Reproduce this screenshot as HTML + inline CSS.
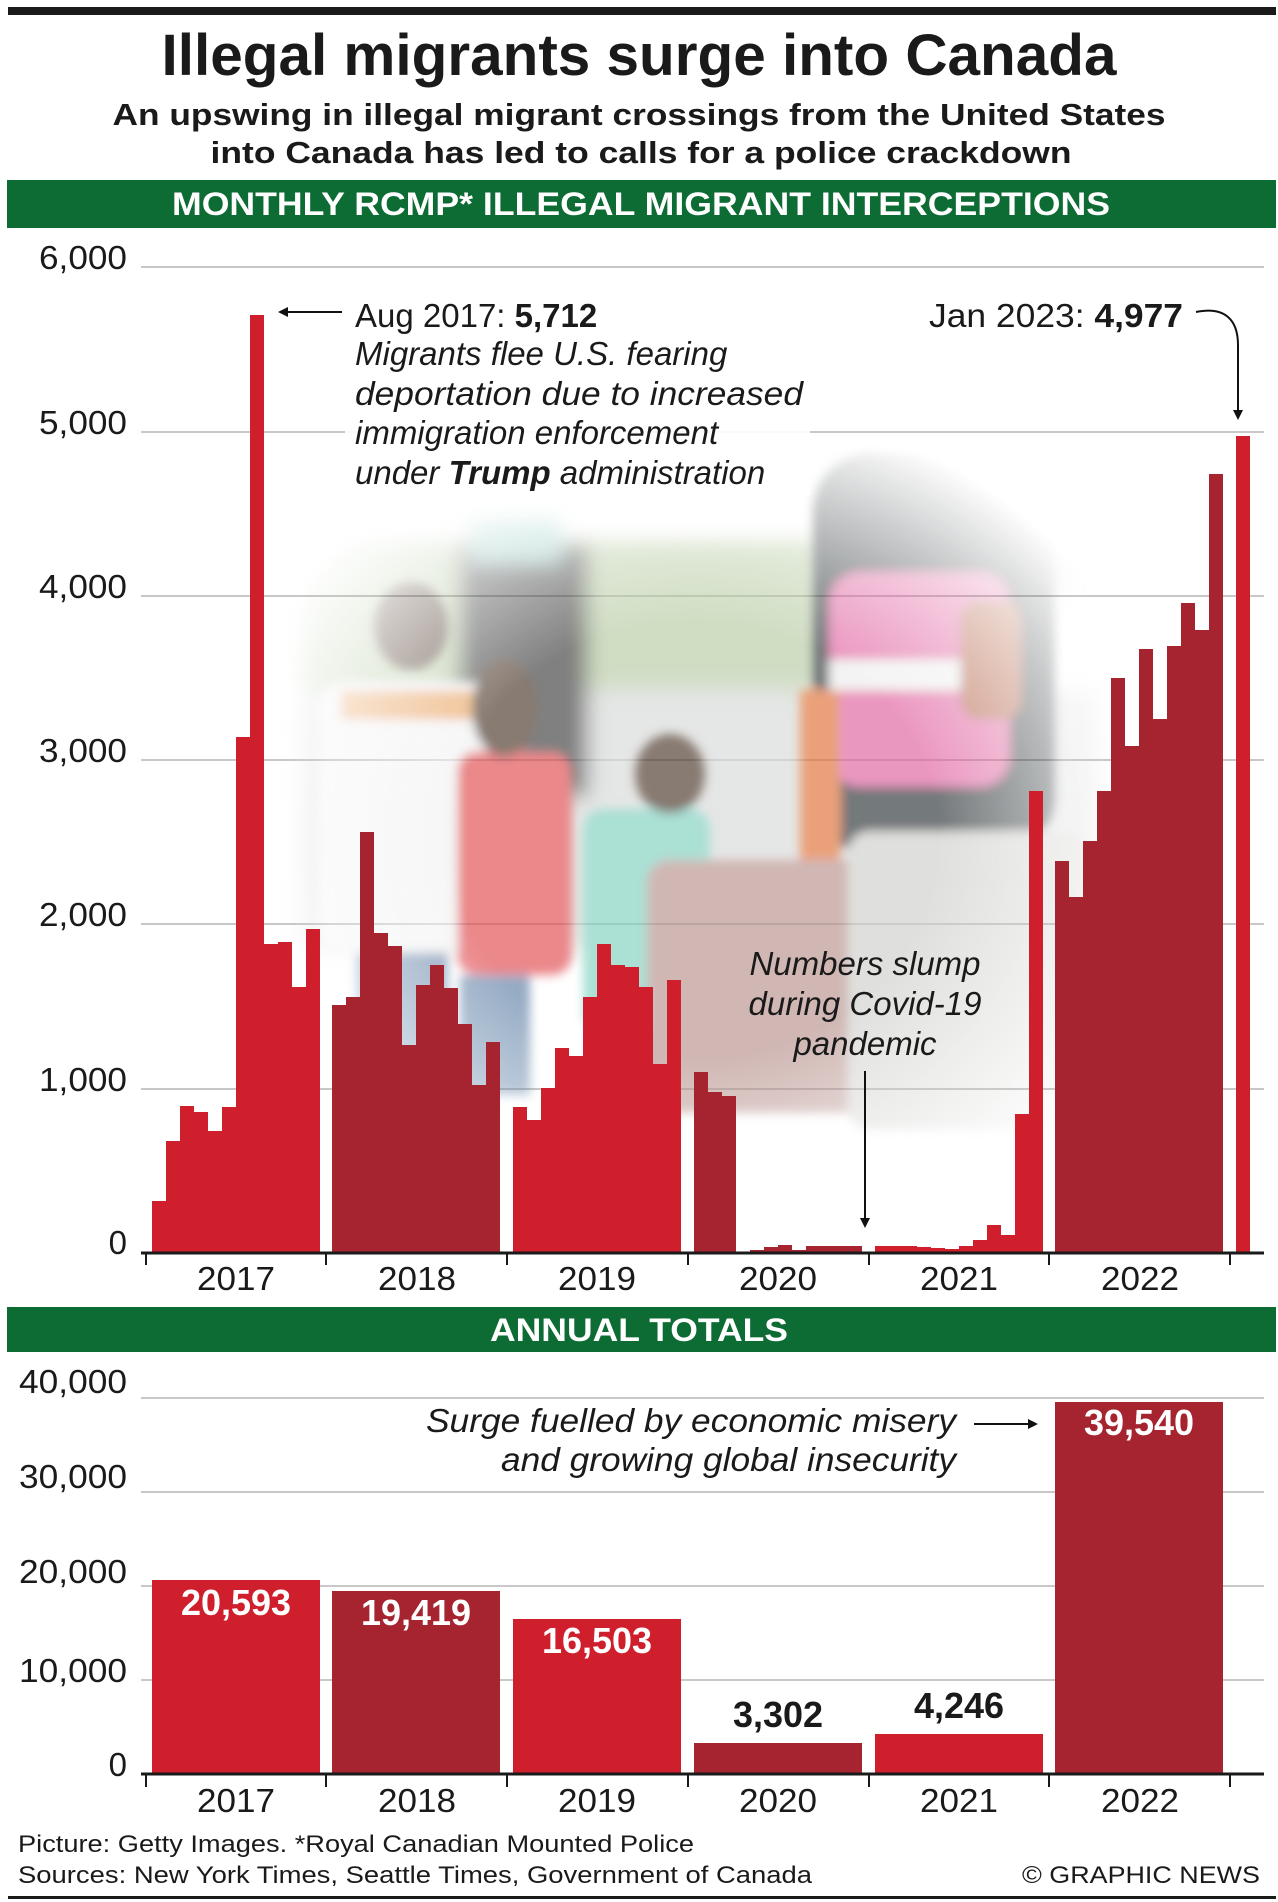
<!DOCTYPE html>
<html><head><meta charset="utf-8"><style>
html,body{margin:0;padding:0;background:#fff;}
svg{display:block;font-family:"Liberation Sans",Arial,sans-serif;}
</style></head><body>
<svg width="1278" height="1902" viewBox="0 0 1278 1902" xmlns="http://www.w3.org/2000/svg">
<defs>
<filter id="bl" x="-20%" y="-20%" width="140%" height="140%"><feGaussianBlur stdDeviation="10"/></filter>
<filter id="bl2" x="-20%" y="-20%" width="140%" height="140%"><feGaussianBlur stdDeviation="5"/></filter>
<radialGradient id="fade" cx="0.5" cy="0.55" r="0.55">
<stop offset="0.5" stop-color="#fff"/><stop offset="1" stop-color="#000"/></radialGradient>
<mask id="pm"><rect x="250" y="400" width="890" height="800" fill="url(#fade)"/></mask>
<marker id="ah" markerWidth="10" markerHeight="10" refX="8" refY="5" orient="auto" markerUnits="userSpaceOnUse"><path d="M0,0 L10,5 L0,10 Z" fill="#111"/></marker>
</defs>
<rect width="1278" height="1902" fill="#fff"/>
<rect x="8" y="7" width="1268" height="8" fill="#1a1a1a"/>
<text x="639" y="75" font-size="58" font-weight="bold" text-anchor="middle" fill="#1a1a1a" textLength="955" lengthAdjust="spacingAndGlyphs">Illegal migrants surge into Canada</text>
<text x="639" y="125" font-size="31" font-weight="bold" text-anchor="middle" fill="#1a1a1a" textLength="1053" lengthAdjust="spacingAndGlyphs">An upswing in illegal migrant crossings from the United States</text>
<text x="641" y="163" font-size="31" font-weight="bold" text-anchor="middle" fill="#1a1a1a" textLength="861" lengthAdjust="spacingAndGlyphs">into Canada has led to calls for a police crackdown</text>
<rect x="7" y="180" width="1269" height="48" fill="#0d6b34"/>
<text x="641" y="215" font-size="32" font-weight="bold" text-anchor="middle" fill="#fff" textLength="938" lengthAdjust="spacingAndGlyphs">MONTHLY RCMP* ILLEGAL MIGRANT INTERCEPTIONS</text>
<g stroke="#c8c8c8" stroke-width="2">
<line x1="141" y1="267" x2="1264" y2="267"/><line x1="141" y1="432" x2="1264" y2="432"/><line x1="141" y1="596" x2="1264" y2="596"/><line x1="141" y1="760" x2="1264" y2="760"/><line x1="141" y1="924" x2="1264" y2="924"/><line x1="141" y1="1089" x2="1264" y2="1089"/></g>
<g font-size="33" fill="#1a1a1a" text-anchor="end">
<text x="127" y="269" textLength="88" lengthAdjust="spacingAndGlyphs">6,000</text>
<text x="127" y="434" textLength="88" lengthAdjust="spacingAndGlyphs">5,000</text>
<text x="127" y="598" textLength="88" lengthAdjust="spacingAndGlyphs">4,000</text>
<text x="127" y="762" textLength="88" lengthAdjust="spacingAndGlyphs">3,000</text>
<text x="127" y="926" textLength="88" lengthAdjust="spacingAndGlyphs">2,000</text>
<text x="127" y="1091" textLength="88" lengthAdjust="spacingAndGlyphs">1,000</text>
<text x="127" y="1254">0</text></g>
<g mask="url(#pm)" opacity="0.65">
<g filter="url(#bl)">
<rect x="300" y="540" width="560" height="190" fill="#b8cca4"/>
<rect x="300" y="690" width="800" height="260" fill="#d8dad9"/>
<rect x="830" y="470" width="260" height="120" fill="#c9c9c9"/>
<rect x="457" y="544" width="132" height="253" fill="#3d3d3d"/>
<rect x="470" y="520" width="90" height="40" fill="#9fd0c8"/>
</g>
<g filter="url(#bl2)">
<rect x="813" y="452" width="242" height="403" rx="60" fill="#2b3036"/>
<rect x="830" y="573" width="179" height="213" rx="30" fill="#e0609e"/>
<rect x="830" y="660" width="179" height="30" fill="#eee"/>
<rect x="960" y="600" width="60" height="120" rx="20" fill="#b05a3a"/>
<rect x="800" y="690" width="40" height="180" fill="#e07030"/>
<rect x="319" y="682" width="184" height="270" rx="25" fill="#f2f2f2"/>
<rect x="340" y="690" width="150" height="30" fill="#e8a05a"/>
<ellipse cx="411" cy="626" rx="37" ry="44" fill="#4a3525"/>
<rect x="356" y="952" width="92" height="173" fill="#5d7fa5"/>
<rect x="457" y="751" width="115" height="224" rx="20" fill="#e04a4e"/>
<ellipse cx="504" cy="708" rx="33" ry="49" fill="#4a3525"/>
<rect x="460" y="975" width="70" height="120" fill="#5d7fa5"/>
<rect x="583" y="809" width="127" height="224" rx="20" fill="#7fd0bf"/>
<ellipse cx="670" cy="774" rx="35" ry="40" fill="#4a3525"/>
<rect x="600" y="1033" width="60" height="90" fill="#5d7fa5"/>
<rect x="647" y="860" width="229" height="253" rx="22" fill="#b7928c"/>
<rect x="848" y="832" width="241" height="298" rx="22" fill="#cfd0cc"/>
</g></g>
<rect x="345" y="290" width="465" height="205" fill="#fff" opacity="0.9"/>
<rect x="920" y="295" width="272" height="42" fill="#fff"/>
<path fill="#cf1f2c" d="M152 1253 V1201 H166 V1141 H180 V1106 H194 V1112 H208 V1131 H222 V1107 H236 V737 H250 V315 H264 V944 H278 V942 H292 V987 H306 V929 H320 V1253 Z"/>
<path fill="#a52430" d="M332 1253 V1005 H346 V997 H360 V832 H374 V933 H388 V946 H402 V1045 H416 V985 H430 V965 H444 V988 H458 V1024 H472 V1085 H486 V1042 H500 V1253 Z"/>
<path fill="#cf1f2c" d="M513 1253 V1107 H527 V1120 H541 V1088 H555 V1048 H569 V1056 H583 V997 H597 V944 H611 V965 H625 V967 H639 V987 H653 V1064 H667 V980 H681 V1253 Z"/>
<path fill="#a52430" d="M694 1253 V1072 H708 V1092 H722 V1096 H736 V1252 H750 V1250 H764 V1247 H778 V1245 H792 V1250 H806 V1246 H862 V1253 Z"/>
<path fill="#cf1f2c" d="M875 1253 V1246 H917 V1247 H931 V1248 H945 V1249 H959 V1246 H973 V1240 H987 V1225 H1001 V1235 H1015 V1114 H1029 V791 H1043 V1253 Z"/>
<path fill="#a52430" d="M1055 1253 V861 H1069 V897 H1083 V841 H1097 V791 H1111 V678 H1125 V746 H1139 V649 H1153 V719 H1167 V646 H1181 V603 H1195 V630 H1209 V474 H1223 V1253 Z"/>
<rect x="1236" y="436" width="14" height="817" fill="#cf1f2c"/>
<line x1="141" y1="1253" x2="1264" y2="1253" stroke="#1a1a1a" stroke-width="3"/>
<g stroke="#1a1a1a" stroke-width="2">
<line x1="146" y1="1253" x2="146" y2="1265"/><line x1="326" y1="1253" x2="326" y2="1265"/><line x1="507" y1="1253" x2="507" y2="1265"/><line x1="688" y1="1253" x2="688" y2="1265"/><line x1="869" y1="1253" x2="869" y2="1265"/><line x1="1049" y1="1253" x2="1049" y2="1265"/><line x1="1230" y1="1253" x2="1230" y2="1265"/></g>
<g font-size="33" fill="#1a1a1a" text-anchor="middle">
<text x="236" y="1290" textLength="78" lengthAdjust="spacingAndGlyphs">2017</text>
<text x="417" y="1290" textLength="78" lengthAdjust="spacingAndGlyphs">2018</text>
<text x="597" y="1290" textLength="78" lengthAdjust="spacingAndGlyphs">2019</text>
<text x="778" y="1290" textLength="78" lengthAdjust="spacingAndGlyphs">2020</text>
<text x="959" y="1290" textLength="78" lengthAdjust="spacingAndGlyphs">2021</text>
<text x="1140" y="1290" textLength="78" lengthAdjust="spacingAndGlyphs">2022</text></g>
<line x1="342" y1="312" x2="280" y2="312" stroke="#111" stroke-width="2" marker-end="url(#ah)"/>
<g font-size="33" fill="#1a1a1a">
<text x="355" y="327">Aug 2017: <tspan font-weight="bold">5,712</tspan></text>
<g font-style="italic">
<text x="355" y="365">Migrants flee U.S. fearing</text>
<text x="355" y="405" textLength="448" lengthAdjust="spacingAndGlyphs">deportation due to increased</text>
<text x="355" y="444">immigration enforcement</text>
<text x="355" y="484">under <tspan font-weight="bold">Trump</tspan> administration</text>
</g>
<text x="1183" y="327" text-anchor="end" textLength="254" lengthAdjust="spacingAndGlyphs">Jan 2023: <tspan font-weight="bold">4,977</tspan></text>
<g font-style="italic" text-anchor="middle">
<text x="865" y="975">Numbers slump</text>
<text x="865" y="1015">during Covid-19</text>
<text x="865" y="1055">pandemic</text></g>
</g>
<path d="M1196 312 C1225 306 1238 320 1238 345 L1238 418" fill="none" stroke="#111" stroke-width="2" marker-end="url(#ah)"/>
<line x1="865" y1="1071" x2="865" y2="1226" stroke="#111" stroke-width="2" marker-end="url(#ah)"/>
<rect x="7" y="1307" width="1269" height="45" fill="#0d6b34"/>
<text x="639" y="1341" font-size="32" font-weight="bold" text-anchor="middle" fill="#fff" textLength="298" lengthAdjust="spacingAndGlyphs">ANNUAL TOTALS</text>
<g stroke="#c8c8c8" stroke-width="2">
<line x1="141" y1="1398" x2="1264" y2="1398"/><line x1="141" y1="1492" x2="1264" y2="1492"/><line x1="141" y1="1586" x2="1264" y2="1586"/><line x1="141" y1="1680" x2="1264" y2="1680"/></g>
<rect x="420" y="1400" width="545" height="80" fill="#fff"/>
<g font-size="33" fill="#1a1a1a" text-anchor="end">
<text x="127" y="1393" textLength="108" lengthAdjust="spacingAndGlyphs">40,000</text>
<text x="127" y="1488" textLength="108" lengthAdjust="spacingAndGlyphs">30,000</text>
<text x="127" y="1583" textLength="108" lengthAdjust="spacingAndGlyphs">20,000</text>
<text x="127" y="1682" textLength="108" lengthAdjust="spacingAndGlyphs">10,000</text>
<text x="127" y="1776">0</text></g>
<rect x="152" y="1580" width="168" height="194" fill="#cf1f2c"/>
<rect x="332" y="1591" width="168" height="183" fill="#a52430"/>
<rect x="513" y="1619" width="168" height="155" fill="#cf1f2c"/>
<rect x="694" y="1743" width="168" height="31" fill="#a52430"/>
<rect x="875" y="1734" width="168" height="40" fill="#cf1f2c"/>
<rect x="1055" y="1402" width="168" height="372" fill="#a52430"/>
<g font-size="36" font-weight="bold" text-anchor="middle">
<text x="236" y="1615" fill="#fff">20,593</text>
<text x="416" y="1625" fill="#fff">19,419</text>
<text x="597" y="1653" fill="#fff">16,503</text>
<text x="778" y="1727" fill="#1a1a1a">3,302</text>
<text x="959" y="1718" fill="#1a1a1a">4,246</text>
<text x="1139" y="1435" fill="#fff">39,540</text></g>
<g font-size="33" font-style="italic" fill="#1a1a1a" text-anchor="end">
<text x="956" y="1432" textLength="530" lengthAdjust="spacingAndGlyphs">Surge fuelled by economic misery</text>
<text x="956" y="1471" textLength="455" lengthAdjust="spacingAndGlyphs">and growing global insecurity</text></g>
<line x1="974" y1="1424" x2="1036" y2="1424" stroke="#111" stroke-width="2" marker-end="url(#ah)"/>
<line x1="141" y1="1774" x2="1264" y2="1774" stroke="#1a1a1a" stroke-width="3"/>
<g stroke="#1a1a1a" stroke-width="2">
<line x1="146" y1="1774" x2="146" y2="1787"/><line x1="326" y1="1774" x2="326" y2="1787"/><line x1="507" y1="1774" x2="507" y2="1787"/><line x1="688" y1="1774" x2="688" y2="1787"/><line x1="869" y1="1774" x2="869" y2="1787"/><line x1="1049" y1="1774" x2="1049" y2="1787"/><line x1="1230" y1="1774" x2="1230" y2="1787"/></g>
<g font-size="33" fill="#1a1a1a" text-anchor="middle">
<text x="236" y="1812" textLength="78" lengthAdjust="spacingAndGlyphs">2017</text>
<text x="417" y="1812" textLength="78" lengthAdjust="spacingAndGlyphs">2018</text>
<text x="597" y="1812" textLength="78" lengthAdjust="spacingAndGlyphs">2019</text>
<text x="778" y="1812" textLength="78" lengthAdjust="spacingAndGlyphs">2020</text>
<text x="959" y="1812" textLength="78" lengthAdjust="spacingAndGlyphs">2021</text>
<text x="1140" y="1812" textLength="78" lengthAdjust="spacingAndGlyphs">2022</text></g>
<g font-size="24" fill="#1a1a1a">
<text x="18" y="1852" textLength="676" lengthAdjust="spacingAndGlyphs">Picture: Getty Images. *Royal Canadian Mounted Police</text>
<text x="18" y="1883" textLength="794" lengthAdjust="spacingAndGlyphs">Sources: New York Times, Seattle Times, Government of Canada</text>
<text x="1260" y="1883" text-anchor="end" textLength="238" lengthAdjust="spacingAndGlyphs">© GRAPHIC NEWS</text></g>
<rect x="8" y="1896" width="1268" height="3" fill="#1a1a1a"/>
</svg>
</body></html>
